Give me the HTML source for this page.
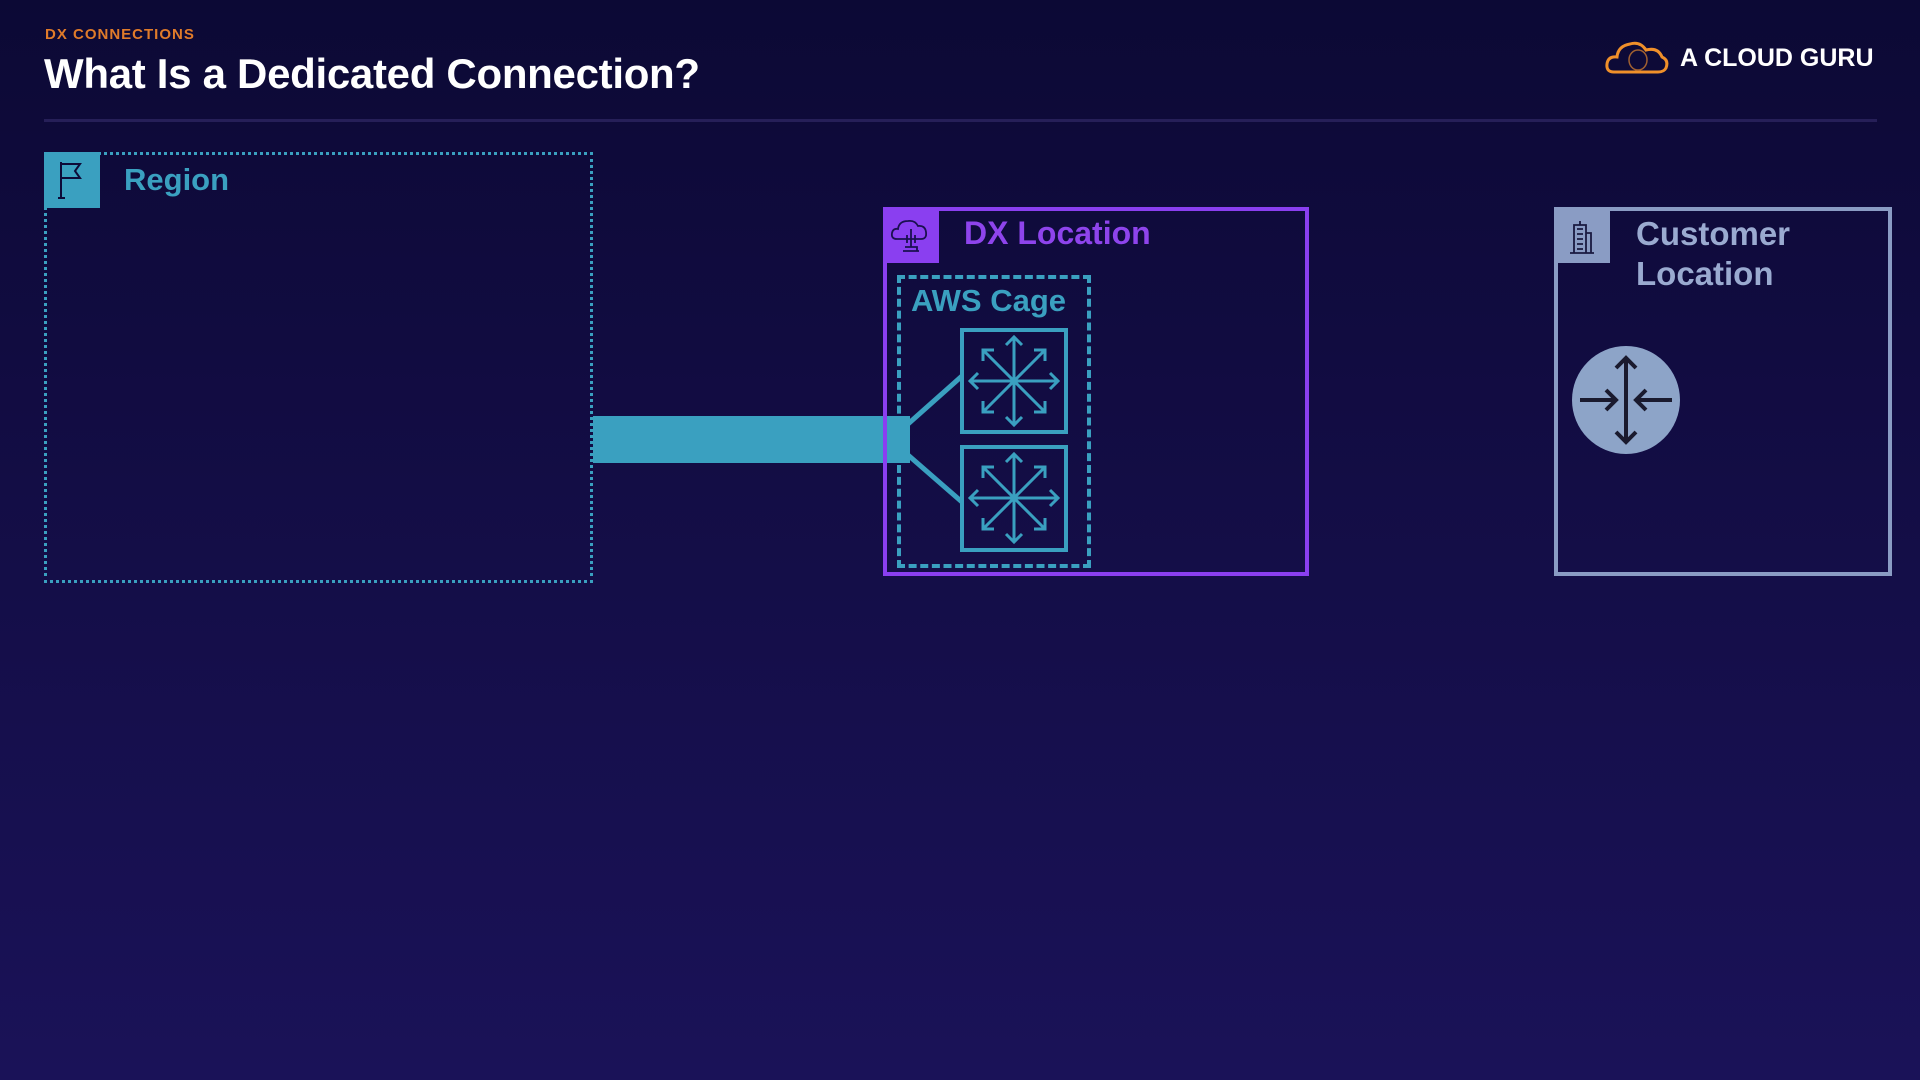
<!DOCTYPE html>
<html><head><meta charset="utf-8"><style>
html,body{margin:0;padding:0}
body{width:1920px;height:1080px;overflow:hidden;background:linear-gradient(#0c0935 0%,#130d45 45%,#1a1258 100%);font-family:"Liberation Sans",sans-serif;position:relative}
.a{position:absolute}
</style></head><body>
<div class="a" style="left:45px;top:26px;color:#e07b2a;font-size:15px;font-weight:bold;letter-spacing:1px">DX CONNECTIONS</div>
<div class="a" style="left:44px;top:50px;color:#fff;font-size:42px;font-weight:bold;letter-spacing:-0.3px">What Is a Dedicated Connection?</div>
<div class="a" style="left:44px;top:119px;width:1833px;height:3px;background:#261f58"></div>
<svg class="a" style="left:1604px;top:38px" width="66" height="40" viewBox="0 0 66 40"><path d="M10 34 Q2 34 3 26 Q4 18 13 19 Q14 8 26 6 Q36 3 42 12 Q54 9 58 19 Q65 22 62 30 Q60 34 54 34 Z" fill="none" stroke="#f0902a" stroke-width="3"/><ellipse cx="34" cy="22" rx="9" ry="10" fill="none" stroke="#a06030" stroke-width="1.5"/></svg>
<div class="a" style="left:1680px;top:44px;color:#fff;font-size:25px;font-weight:bold">A CLOUD GURU</div>

<div class="a" style="left:44px;top:152px;width:543px;height:425px;border:3px dotted #3aa0c0"></div>
<div class="a" style="left:44px;top:152px;width:56px;height:56px;background:#3aa0c0"></div>
<svg class="a" style="left:44px;top:152px" width="56" height="56"><path d="M17 10 V46 M14 46 H21 M17 12 H36 L31 19 L36 26 H17" fill="none" stroke="#0d0a38" stroke-width="2"/></svg>
<div class="a" style="left:124px;top:162px;color:#3aa0c0;font-size:31px;font-weight:bold">Region</div>

<div class="a" style="left:593px;top:416px;width:317px;height:47px;background:#3aa0c0"></div>

<div class="a" style="left:883px;top:207px;width:418px;height:361px;border:4px solid #8a3ff0"></div>
<div class="a" style="left:883px;top:207px;width:56px;height:56px;background:#8a3ff0"></div>
<svg class="a" style="left:883px;top:207px" width="56" height="56"><path d="M14 32 Q8 32 9 26 Q10 21 15 22 Q16 14 25 14 Q32 13 35 19 Q42 18 43 25 Q44 32 38 32 Z M20 44 H36 M22 40 H34 V44 M28 22 V40 M24 28 V36 M32 28 V36" fill="none" stroke="#1a1050" stroke-width="1.8"/></svg>
<div class="a" style="left:964px;top:215px;color:#8e44ec;font-size:32px;font-weight:bold">DX Location</div>

<div class="a" style="left:897px;top:275px;width:186px;height:285px;border:4px dashed #3aa0c0"></div>
<div class="a" style="left:911px;top:283px;color:#3aa0c0;font-size:31px;font-weight:bold">AWS Cage</div>
<svg class="a" style="left:0;top:0" width="1920" height="1080">
<g stroke="#3aa0c0" stroke-width="5" fill="none">
<line x1="908" y1="424" x2="962" y2="376"/><line x1="908" y1="455" x2="962" y2="502"/>
</g>
<g stroke="#3aa0c0" fill="none" stroke-width="4">
<rect x="962" y="330" width="104" height="102"/><rect x="962" y="447" width="104" height="103"/>
</g>
<g id="st" stroke="#3aa0c0" fill="none" stroke-width="3">
<path d="M1014 337 V425 M970 381 H1058 M983 350 L1045 412 M1045 350 L983 412"/>
<path d="M1006 345 L1014 337 L1022 345 M1006 417 L1014 425 L1022 417 M978 373 L970 381 L978 389 M1050 373 L1058 381 L1050 389 M983 361 V350 H994 M1045 361 V350 H1034 M983 401 V412 H994 M1045 401 V412 H1034"/>
</g>
<use href="#st" transform="translate(0,117)"/>
<circle cx="1626" cy="400" r="54" fill="#8da4c8"/>
<g stroke="#1a1a2e" stroke-width="4" fill="none">
<path d="M1626 358 V442 M1616 368 L1626 358 L1636 368 M1616 432 L1626 442 L1636 432 M1580 400 H1616 M1606 390 L1616 400 L1606 410 M1672 400 H1636 M1646 390 L1636 400 L1646 410"/>
</g>
</svg>

<div class="a" style="left:1554px;top:207px;width:330px;height:361px;border:4px solid #8a9cc4"></div>
<div class="a" style="left:1554px;top:207px;width:56px;height:56px;background:#8a9cc4"></div>
<svg class="a" style="left:1554px;top:207px" width="56" height="56"><path d="M20 46 V18 H32 V46 M32 26 H37 V46 M16 46 H40 M26 14 V18 M23 22 H29 M23 27 H29 M23 32 H29 M23 37 H29 M23 42 H29" fill="none" stroke="#1a1a40" stroke-width="1.8"/></svg>
<div class="a" style="left:1636px;top:214px;color:#9aaad0;font-size:33px;font-weight:bold;line-height:40px">Customer<br>Location</div>
</body></html>
